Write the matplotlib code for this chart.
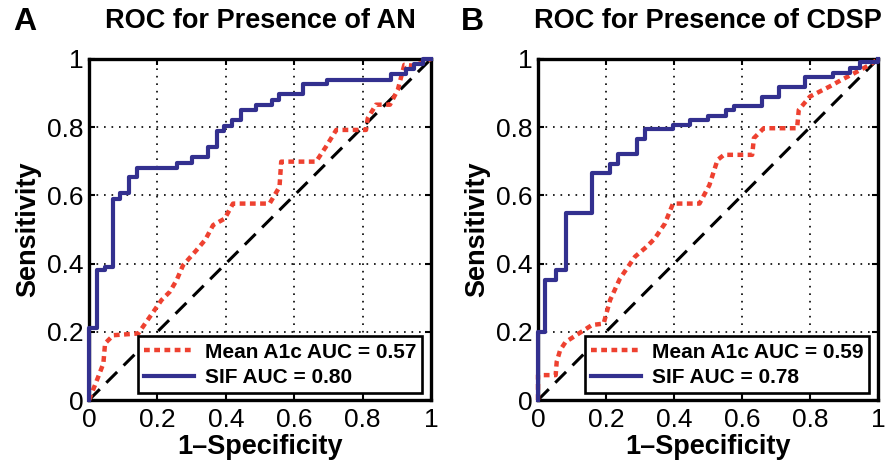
import numpy as np
import matplotlib.pyplot as plt

plt.rcParams['font.family'] = ['Liberation Sans', 'DejaVu Sans']

# Panel A - presence of AN
a_sif_fpr = [0, 0, 0.022, 0.047, 0.071, 0.09, 0.118, 0.141, 0.256, 0.30, 0.348, 0.373,
             0.394, 0.419, 0.443, 0.489, 0.536, 0.557, 0.627, 0.696, 0.883, 0.927,
             0.951, 0.976, 1.0]
a_sif_tpr = [0, 0.21, 0.38, 0.39, 0.59, 0.606, 0.655, 0.68, 0.696, 0.714, 0.743, 0.79,
             0.804, 0.822, 0.851, 0.865, 0.88, 0.898, 0.927, 0.939, 0.956, 0.97,
             0.986, 1.0, 1.0]
a_a1c_fpr = [0, 0.02, 0.042, 0.047, 0.071, 0.144, 0.178, 0.212, 0.236, 0.256, 0.275,
             0.314, 0.34, 0.363, 0.397, 0.421, 0.528, 0.557, 0.562, 0.664, 0.693,
             0.723, 0.81, 0.815, 0.839, 0.88, 0.903, 0.922, 0.95, 1.0]
a_a1c_tpr = [0, 0.05, 0.107, 0.166, 0.19, 0.195, 0.244, 0.293, 0.317, 0.351, 0.395,
             0.439, 0.47, 0.513, 0.532, 0.576, 0.576, 0.625, 0.699, 0.699, 0.743,
             0.792, 0.792, 0.826, 0.866, 0.866, 0.91, 0.983, 0.98, 1.0]

# Panel B - presence of CDSP
b_sif_fpr = [0, 0, 0.022, 0.052, 0.081, 0.159, 0.212, 0.236, 0.29, 0.314, 0.397, 0.447,
             0.499, 0.554, 0.577, 0.66, 0.708, 0.786, 0.867, 0.917, 0.947, 1.0]
b_sif_tpr = [0, 0.2, 0.351, 0.38, 0.549, 0.665, 0.692, 0.72, 0.765, 0.794, 0.807, 0.82,
             0.833, 0.849, 0.863, 0.89, 0.918, 0.946, 0.959, 0.975, 0.99, 1.0]
b_a1c_fpr = [0, 0, 0.052, 0.055, 0.065, 0.081, 0.12, 0.159, 0.193, 0.212, 0.241, 0.285,
             0.319, 0.343, 0.373, 0.397, 0.475, 0.504, 0.528, 0.547, 0.63, 0.635,
             0.664, 0.762, 0.767, 0.8, 0.859, 0.893, 0.922, 0.976, 1.0]
b_a1c_tpr = [0, 0.073, 0.073, 0.112, 0.146, 0.17, 0.195, 0.22, 0.224, 0.293, 0.356, 0.42,
             0.449, 0.473, 0.517, 0.576, 0.576, 0.63, 0.704, 0.719, 0.719, 0.768,
             0.797, 0.797, 0.851, 0.89, 0.92, 0.939, 0.954, 0.983, 1.0]

panels = [
    ("A", "ROC for Presence of AN", a_a1c_fpr, a_a1c_tpr, a_sif_fpr, a_sif_tpr, 0.57, 0.80),
    ("B", "ROC for Presence of CDSP", b_a1c_fpr, b_a1c_tpr, b_sif_fpr, b_sif_tpr, 0.59, 0.78),
]
ticks = [0, 0.2, 0.4, 0.6, 0.8, 1]
tick_labels = ["0", "0.2", "0.4", "0.6", "0.8", "1"]

red = "#ee4130"
blue = "#33308f"

fig = plt.figure(figsize=(8.86, 4.63), dpi=100)
lefts = [89 / 886, 538 / 886]
widths = [342 / 886, 340 / 886]
letter_x = [25 / 886, 472 / 886]

for i, (letter, title, a1x, a1y, sx, sy, auc_a1c, auc_sif) in enumerate(panels):
    ax = fig.add_axes([lefts[i], 63 / 463, widths[i], 341 / 463])
    ax.plot([0, 1], [0, 1], color="black", lw=2.2, ls=(0, (5, 3)), clip_on=False, zorder=2)
    ax.plot(a1x, a1y, color=red, lw=3.2, ls=(0, (1.3, 1.0)), clip_on=False, zorder=3,
            label=f"Mean A1c AUC = {auc_a1c:.2f}")
    ax.plot(sx, sy, color=blue, lw=3.0, drawstyle="steps-post", clip_on=False, zorder=4,
            label=f"SIF AUC = {auc_sif:.2f}")
    ax.set_xlim(0, 1)
    ax.set_ylim(0, 1)
    ax.set_xticks(ticks)
    ax.set_yticks(ticks)
    ax.set_xticklabels(tick_labels)
    ax.set_yticklabels(tick_labels)
    ax.tick_params(direction="in", length=4, width=1.5, labelsize=19, pad=4,
                   top=True, right=True)
    ax.tick_params(axis="x", pad=6)
    ax.grid(True, color="black", ls=(0, (1, 3.5)), lw=1.2)
    for s in ax.spines.values():
        s.set_linewidth(2.4)
    ax.set_xlabel("1\u2013Specificity", fontsize=19.5, fontweight="bold", labelpad=1)
    ax.set_ylabel("Sensitivity", fontsize=19.5, fontweight="bold", labelpad=4)
    ax.set_title(title, fontsize=19.5, fontweight="bold", pad=22)
    leg = ax.legend(loc="lower right", bbox_to_anchor=(0.975, 0.02),
                    prop={"weight": "bold", "size": 15}, fancybox=False, framealpha=1,
                    edgecolor="black", handlelength=2.4, borderpad=0.3, labelspacing=0.3,
                    handletextpad=0.5, borderaxespad=0)
    leg.get_frame().set_linewidth(1.9)
    fig.text(letter_x[i], 1 - 22 / 463, letter, fontsize=23, fontweight="bold",
             ha="center", va="center")

fig.savefig("out.png", dpi=100)
